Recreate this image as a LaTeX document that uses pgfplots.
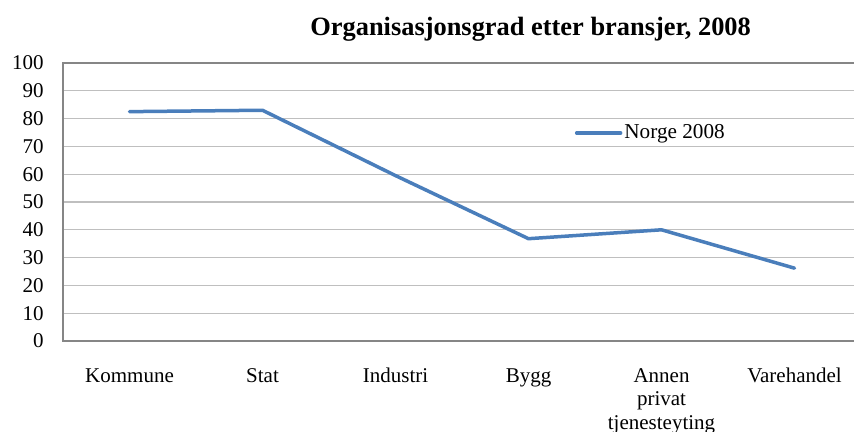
\documentclass[border=0pt]{standalone}
\usepackage{fontspec}
\setmainfont{Liberation Serif}
\usepackage{pgfplots}
\pgfplotsset{compat=1.18}
\definecolor{lineblue}{HTML}{4A7EBB}
\definecolor{gridgray}{HTML}{BFBFBF}
\definecolor{axgray}{HTML}{868686}
\begin{document}
\fontsize{10.5}{12}\selectfont
\begin{tikzpicture}
\begin{axis}[
  name=ax,
  scale only axis,
  width=399pt, height=139pt,
  xmin=-0.5, xmax=5.5,
  ymin=0, ymax=100,
  ytick={0,10,...,100},
  xtick={0,1,2,3,4,5},
  xticklabels={Kommune,Stat,Industri,Bygg,{Annen\\privat\\tjenesteyting},Varehandel},
  xticklabel style={align=center, text depth=0pt, font=\fontsize{10.5}{11.75}\selectfont, yshift=-10pt},
  yticklabel style={font=\fontsize{10.5}{12}\selectfont, xshift=-6pt},
  /pgf/number format/assume math mode=true,
  major tick length=0pt,
  ymajorgrids,
  grid style={gridgray, line width=0.6pt},
  axis line style={axgray, line width=0.6pt},
  title={\textbf{Organisasjonsgrad etter bransjer, 2008}},
  title style={at={(rel axis cs:0.586,1)}, anchor=center, yshift=11pt, font=\fontsize{13.2}{15}\selectfont},
  legend style={at={(rel axis cs:0.641,0.748)}, anchor=west, draw=none, fill=none, inner xsep=0pt, inner ysep=0pt, font=\fontsize{10.6}{12}\selectfont, nodes={inner xsep=1pt}},
  legend image code/.code={\draw[#1] (0pt,0pt) -- (22pt,0pt);},
]
\addplot[lineblue, line width=1.75pt, line join=round, line cap=round, mark=none]
  coordinates {(0,82.5) (1,83.0) (2,59.5) (3,36.8) (4,40.0) (5,26.2)};
\addlegendentry{Norge 2008}
\end{axis}
\pgfresetboundingbox
\path[use as bounding box] (ax.south west) ++(-31.5pt,-45.5pt) rectangle ++(427pt,216pt);
\end{tikzpicture}
\end{document}
